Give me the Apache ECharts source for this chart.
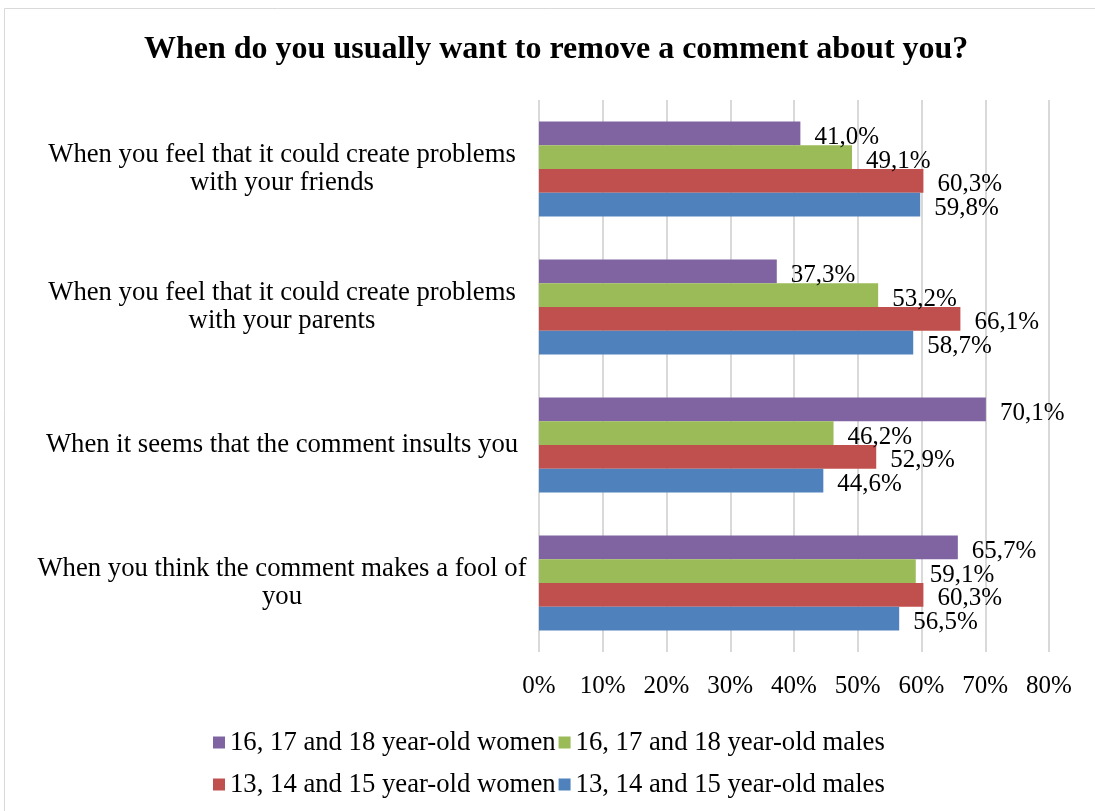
<!DOCTYPE html>
<html>
<head>
<meta charset="utf-8">
<script src="https://cdn.jsdelivr.net/npm/echarts@6/dist/echarts.min.js"></script>
<style>
html,body{margin:0;padding:0;background:#fff;}
#chart{width:1095px;height:811px;}
</style>
</head>
<body>
<div id="chart"></div>
<script>
const categories = [
  "When you feel that it could create problems\nwith your friends",
  "When you feel that it could create problems\nwith your parents",
  "When it seems that the comment insults you",
  "When you think the comment makes a fool of\nyou"
];
const seriesNames = [
  "16, 17 and 18 year-old women",
  "16, 17 and 18 year-old males",
  "13, 14 and 15 year-old women",
  "13, 14 and 15 year-old males"
];
const women1618 = [41.0, 37.3, 70.1, 65.7];
const males1618 = [49.1, 53.2, 46.2, 59.1];
const women1315 = [60.3, 66.1, 52.9, 60.3];
const males1315 = [59.8, 58.7, 44.6, 56.5];
const colors = ["#8064A2", "#9BBB59", "#C0504D", "#4F81BD"];
const xTicks = [0, 10, 20, 30, 40, 50, 60, 70, 80];

const FONT = "Liberation Serif";
const fmt = v => v.toFixed(1).replace('.', ',') + '%';
const seriesData = [women1618, males1618, women1315, males1315];

const chart = echarts.init(document.getElementById('chart'));
chart.setOption({
  animation: false,
  backgroundColor: '#fff',
  textStyle: { fontFamily: FONT, color: '#000' },
  graphic: [{
    type: 'rect', shape: { x: 4.5, y: 8.5, width: 1100, height: 820 },
    style: { fill: 'none', stroke: '#d9d9d9', lineWidth: 1 }, silent: true, z: -1
  }],
  title: {
    text: 'When do you usually want to remove a comment about you?',
    left: 139, top: 29,
    textStyle: { fontFamily: FONT, fontWeight: 'bold', fontSize: 32, color: '#000' }
  },
  legend: [{
    data: seriesNames.slice(0, 2), left: 208, top: 724, itemWidth: 12, itemHeight: 12, itemGap: 3,
    icon: 'rect', textStyle: { fontFamily: FONT, fontSize: 26.7, color: '#000' }
  }, {
    data: seriesNames.slice(2, 4), left: 208, top: 766, itemWidth: 12, itemHeight: 12, itemGap: 3,
    icon: 'rect', textStyle: { fontFamily: FONT, fontSize: 26.7, color: '#000' }
  }],
  grid: { left: 539, right: 46, top: 100, bottom: 159, containLabel: false },
  xAxis: {
    type: 'value', min: xTicks[0], max: xTicks[xTicks.length - 1], interval: 10,
    axisLine: { show: false }, axisTick: { show: false },
    splitLine: { lineStyle: { color: '#d9d9d9', width: 2 } },
    axisLabel: { formatter: '{value}%', fontFamily: FONT, fontSize: 25, color: '#000', margin: 22 }
  },
  yAxis: {
    type: 'category', data: categories, inverse: true,
    axisLine: { show: false }, axisTick: { show: false },
    axisLabel: { fontFamily: FONT, fontSize: 26.7, color: '#000', align: 'center', margin: 257, lineHeight: 28 }
  },
  series: seriesNames.map((name, i) => ({
    name, type: 'bar', data: seriesData[i], barGap: '0%', barCategoryGap: '31%',
    itemStyle: { color: colors[i] },
    label: { show: true, position: 'right', distance: 14, formatter: p => fmt(p.value),
      fontFamily: FONT, fontSize: 25, color: '#000', offset: [0, 4] }
  }))
});
</script>
</body>
</html>
